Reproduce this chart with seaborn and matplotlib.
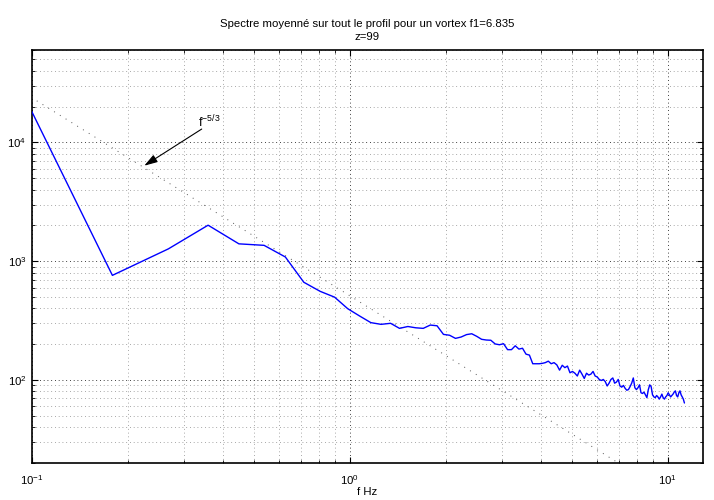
import numpy as np
import pandas as pd
import matplotlib
matplotlib.use("Agg")
import matplotlib.pyplot as plt
import matplotlib.ticker as mticker
import seaborn as sns

# ---------------- data ----------------
bin_width_hz = 0.0895
bins = np.arange(1, 127)
power = [33000, 760, 1270, 2010, 1400, 1360, 1085, 665, 558, 498,
         398, 345, 304, 294, 300, 272, 282, 275, 272, 290,
         286, 242, 238, 224, 230, 241, 245, 233, 220, 217,
         216, 201, 198, 202, 180, 180, 194, 182, 185, 165,
         162, 137, 137, 137, 138, 140, 144, 137, 140, 134,
         121, 133, 127, 131, 115, 118, 114, 108, 121, 112,
         103, 114, 110, 112, 118, 108, 106, 101, 99, 101,
         97, 89, 94, 101, 104, 94, 96, 101, 89, 87,
         90, 85, 82, 83, 88, 94, 104, 86, 83, 86,
         91, 78, 77, 79, 75, 71, 83, 91, 88, 75,
         72, 71, 74, 72, 69, 72, 76, 71, 69, 72,
         74, 78, 75, 72, 74, 76, 79, 81, 74, 72,
         78, 81, 75, 72, 69, 64]
ref_coef = 511.0            # reference law  P = C * f^(-5/3)
ref_f_range = [0.1035, 11.3]
ref_label = r"f$^{\mathdefault{-5/3}}$"
title_text = "Spectre moyenné sur tout le profil pour un vortex f1=6.835\nz=99"
xlabel_text = "f Hz"
x_limits = [0.1, 12.9]
y_limits = [20, 6.0e4]

freq = bins * bin_width_hz
df = pd.DataFrame({"f": freq, "P": power})
ref_f = np.array(ref_f_range)
ref_p = ref_coef * ref_f ** (-5.0 / 3.0)

# ---------------- style ----------------
sns.set_style("white")
plt.rcParams["font.family"] = ["Liberation Sans", "DejaVu Sans"]
plt.rcParams["mathtext.fontset"] = "custom"
plt.rcParams["mathtext.rm"] = "Liberation Sans"
plt.rcParams["mathtext.it"] = "Liberation Sans"
plt.rcParams["axes.unicode_minus"] = False
plt.rcParams["text.color"] = "black"
plt.rcParams["axes.labelcolor"] = "black"
plt.rcParams["xtick.color"] = "black"
plt.rcParams["ytick.color"] = "black"

fig = plt.figure(figsize=(7.14, 5.0), dpi=100)
ax = fig.add_axes([32 / 714, 1 - 463 / 500, (703 - 32) / 714, (463 - 50) / 500])

sns.lineplot(data=df, x="f", y="P", ax=ax, color=(0, 0, 1), lw=1.0,
             estimator=None, sort=False, zorder=3)
ax.plot(ref_f, ref_p, color="#555555", lw=0.7, dashes=(1, 6), zorder=2)

ax.set_xscale("log")
ax.set_yscale("log")
ax.set_xlim(*x_limits)
ax.set_ylim(*y_limits)

# grid (MATLAB-like dotted)
ax.grid(True, which="major", color="black", lw=0.6, dashes=(1, 3.5))
ax.grid(True, which="minor", color="#8a8a8a", lw=0.6, dashes=(1, 3.5))
ax.set_axisbelow(True)

ax.xaxis.set_major_locator(mticker.LogLocator(base=10))
ax.yaxis.set_major_locator(mticker.LogLocator(base=10))
ax.xaxis.set_minor_locator(mticker.LogLocator(base=10, subs=np.arange(2, 10)))
ax.yaxis.set_minor_locator(mticker.LogLocator(base=10, subs=np.arange(2, 10)))
ax.xaxis.set_minor_formatter(mticker.NullFormatter())
ax.yaxis.set_minor_formatter(mticker.NullFormatter())
ax.xaxis.set_major_formatter(mticker.LogFormatterSciNotation())
ax.yaxis.set_major_formatter(mticker.LogFormatterSciNotation())

ax.tick_params(which="both", direction="in", top=True, right=True,
               bottom=True, left=True, color="black", labelsize=8.2)
ax.tick_params(which="major", length=4, width=0.8)
ax.tick_params(axis="x", which="major", pad=7)
ax.tick_params(axis="y", which="major", pad=4)
ax.tick_params(which="minor", length=2.2, width=0.6)
for sp in ax.spines.values():
    sp.set_color("black")
    sp.set_linewidth(1.2)

ax.set_xlabel(xlabel_text, fontsize=8.2, labelpad=0)
ax.set_ylabel("")
ax.set_title(title_text, fontsize=8.2, pad=7, linespacing=1.35, color="black")

# annotation arrow for the reference law
ax.annotate("", xy=(0.2255, 6370), xytext=(0.3418, 12960),
            arrowprops=dict(arrowstyle="-|>,head_length=0.8,head_width=0.25",
                            color="black", lw=0.8, shrinkA=0, shrinkB=0))
ax.text(0.333, 12600, ref_label, fontsize=9, ha="left", va="bottom")

fig.savefig("out.png", dpi=100)
